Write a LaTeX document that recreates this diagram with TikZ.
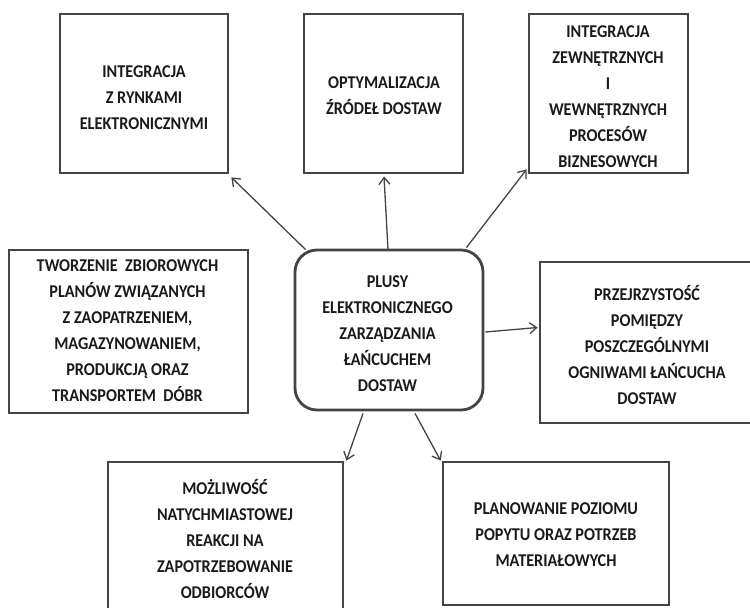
\documentclass[tikz,border=0pt]{standalone}
\usepackage{fontspec}
\setmainfont{Carlito}
\newfontfamily\boxfont{Carlito}[FakeStretch=0.9]
\usetikzlibrary{arrows.meta,calc}
\definecolor{boxline}{HTML}{444444}
\definecolor{txt}{HTML}{1A1A1A}
\tikzset{
  frame/.style={draw=boxline, line width=2.8pt, fill=white, minimum width=#1},
  lbl/.style={text=txt, align=center, inner sep=0pt, font=\boxfont\bfseries\fontsize{18}{26}\selectfont},
  conn/.style={draw=boxline, line width=1.3pt, -{Straight Barb[length=7pt,width=11pt,line width=1.3pt]}}
}
\begin{document}
\begin{tikzpicture}[x=1pt,y=-1pt]
\useasboundingbox (0,0) rectangle (750,608);
\fill[white] (0,0) rectangle (750,608);
\clip (0,0) rectangle (750,608);
% boxes
\node[frame=168pt, minimum height=159pt] (b1) at (144,93.5) {};
\node[frame=159pt, minimum height=159pt] (b2) at (383.5,93.5) {};
\node[frame=159pt, minimum height=159pt] (b3) at (608.5,93.5) {};
\node[frame=239pt, minimum height=163pt] (bL) at (128.5,331.5) {};
\node[frame=188pt, minimum height=160pt, rounded corners=22pt] (c) at (389,330) {};
\node[frame=214pt, minimum height=161pt] (bR) at (647,342.5) {};
\node[frame=235pt, minimum height=154pt] (bBL) at (225.5,539) {};
\node[frame=226pt, minimum height=143pt] (bBR) at (556,533.5) {};
% texts
\node[lbl] (t1) at (144,98) {INTEGRACJA\\Z RYNKAMI\\ELEKTRONICZNYMI};
\node[lbl] (t2) at (384,95.5) {OPTYMALIZACJA\\ŹRÓDEŁ DOSTAW};
\node[lbl] (t3) at (608,96.5) {INTEGRACJA\\ZEWNĘTRZNYCH\\I\\WEWNĘTRZNYCH\\PROCESÓW\\BIZNESOWYCH};
\node[lbl] (tL) at (127.5,330.5) {TWORZENIE\ \ ZBIOROWYCH\\PLANÓW ZWIĄZANYCH\\Z ZAOPATRZENIEM,\\MAGAZYNOWANIEM,\\PRODUKCJĄ ORAZ\\TRANSPORTEM\ \ DÓBR};
\node[lbl] (tc) at (387.5,333.5) {PLUSY\\ELEKTRONICZNEGO\\ZARZĄDZANIA\\ŁAŃCUCHEM\\DOSTAW};
\node[lbl] (tR) at (647,345) {PRZEJRZYSTOŚĆ\\POMIĘDZY\\POSZCZEGÓLNYMI\\OGNIWAMI ŁAŃCUCHA\\DOSTAW};
\node[lbl] (tBL) at (225,539) {MOŻLIWOŚĆ\\NATYCHMIASTOWEJ\\REAKCJI NA\\ZAPOTRZEBOWANIE\\ODBIORCÓW};
\node[lbl] (tBR) at (556,535) {PLANOWANIE POZIOMU\\POPYTU ORAZ POTRZEB\\MATERIAŁOWYCH};
% connectors
\draw[conn] ($(c.north west)+(12,1)$) -- ($(b1.south east)+(2,3)$);
\draw[conn] ($(c.north)+(-1,1)$) -- ($(b2.south)+(0.5,2)$);
\draw[conn] ($(c.north east)+(-18,-1)$) -- ($(b3.south west)+(-1,-5)$);
\draw[conn] ($(c.east)+(1,2)$) -- ($(bR.west)+(-1,-15)$);
\draw[conn] ($(c.south)+(-26,2)$) -- ($(bBL.north east)+(2,0)$);
\draw[conn] ($(c.south)+(26,2)$) -- ($(bBR.north west)+(-1,0)$);
\end{tikzpicture}
\end{document}
